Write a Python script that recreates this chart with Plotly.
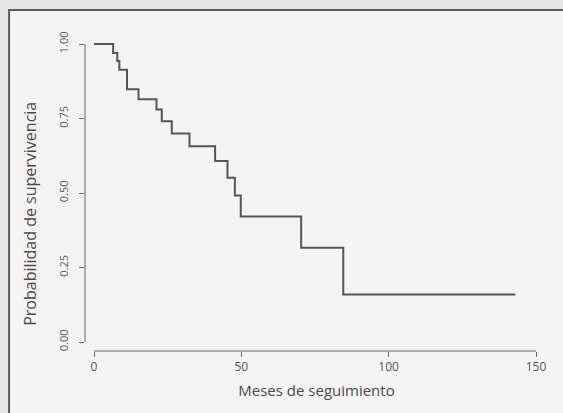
import plotly.graph_objects as go

# Kaplan-Meier step data
tiempos = [0, 6.5, 7.9, 8.6, 11.2, 15.1, 21.2, 23.0, 26.4, 32.4, 41.1, 45.3, 47.8, 49.8, 70.3, 84.6, 143]
supervivencia = [1.0, 0.970, 0.943, 0.914, 0.848, 0.815, 0.780, 0.741, 0.700, 0.657, 0.607, 0.551, 0.492, 0.421, 0.316, 0.159, 0.159]

x_ticks = [0, 50, 100, 150]
y_ticks = [0.0, 0.25, 0.5, 0.75, 1.0]
y_tick_labels = ["0.00", "0.25", "0.50", "0.75", "1.00"]

ink = "#4a4a4a"
font_family = "Open Sans, Noto Sans, DejaVu Sans, sans-serif"

fig = go.Figure()
fig.add_trace(go.Scatter(
    x=tiempos, y=supervivencia, mode="lines", line_shape="hv",
    line=dict(color="#555555", width=2), showlegend=False, hoverinfo="skip"))

# outer frame of the figure box
fig.add_shape(type="rect", xref="paper", yref="paper",
              x0=-0.164, x1=1.2, y0=-0.4, y1=1.062,
              line=dict(color="#5a5a5a", width=2), fillcolor="#f4f4f4", layer="below")
# R-style axis lines that span only the tick range
fig.add_shape(type="line", xref="x", yref="paper", x0=0, x1=150, y0=0, y1=0,
              line=dict(color="#666666", width=1))
fig.add_shape(type="line", xref="paper", yref="y", x0=0, x1=0, y0=0, y1=1,
              line=dict(color="#666666", width=1))

# y-axis title (placed as in the reference, slightly below the axis centre)
fig.add_annotation(text="Probabilidad de supervivencia", xref="paper", yref="paper",
                   x=-0.119, y=0.427, textangle=-90, showarrow=False,
                   xanchor="center", yanchor="middle",
                   font=dict(size=16, color=ink, family=font_family))

fig.update_layout(
    width=563, height=413,
    margin=dict(l=85, r=15, t=30, b=62, autoexpand=False),
    paper_bgcolor="#e4e4e4", plot_bgcolor="rgba(0,0,0,0)",
    font=dict(family=font_family, color=ink),
    xaxis=dict(range=[-3.054, 154.07], tickvals=x_ticks, ticktext=[str(v) for v in x_ticks],
               ticks="outside", ticklen=5, tickcolor="#666666", showline=False, automargin=False,
               showgrid=False, zeroline=False, tickfont=dict(size=12, color="#555555"),
               title=dict(text="Meses de seguimiento", font=dict(size=15, color=ink), standoff=11)),
    yaxis=dict(range=[-0.0302, 1.047], tickvals=y_ticks, ticktext=y_tick_labels,
               ticks="outside", ticklen=5, tickcolor="#666666", showline=False, automargin=False,
               showgrid=False, zeroline=False, tickangle=-90, ticklabelstandoff=7,
               tickfont=dict(size=11, color="#555555")),
)

fig.write_html("out.html", config={"displayModeBar": False},
               post_script="document.body.style.margin='0';")
